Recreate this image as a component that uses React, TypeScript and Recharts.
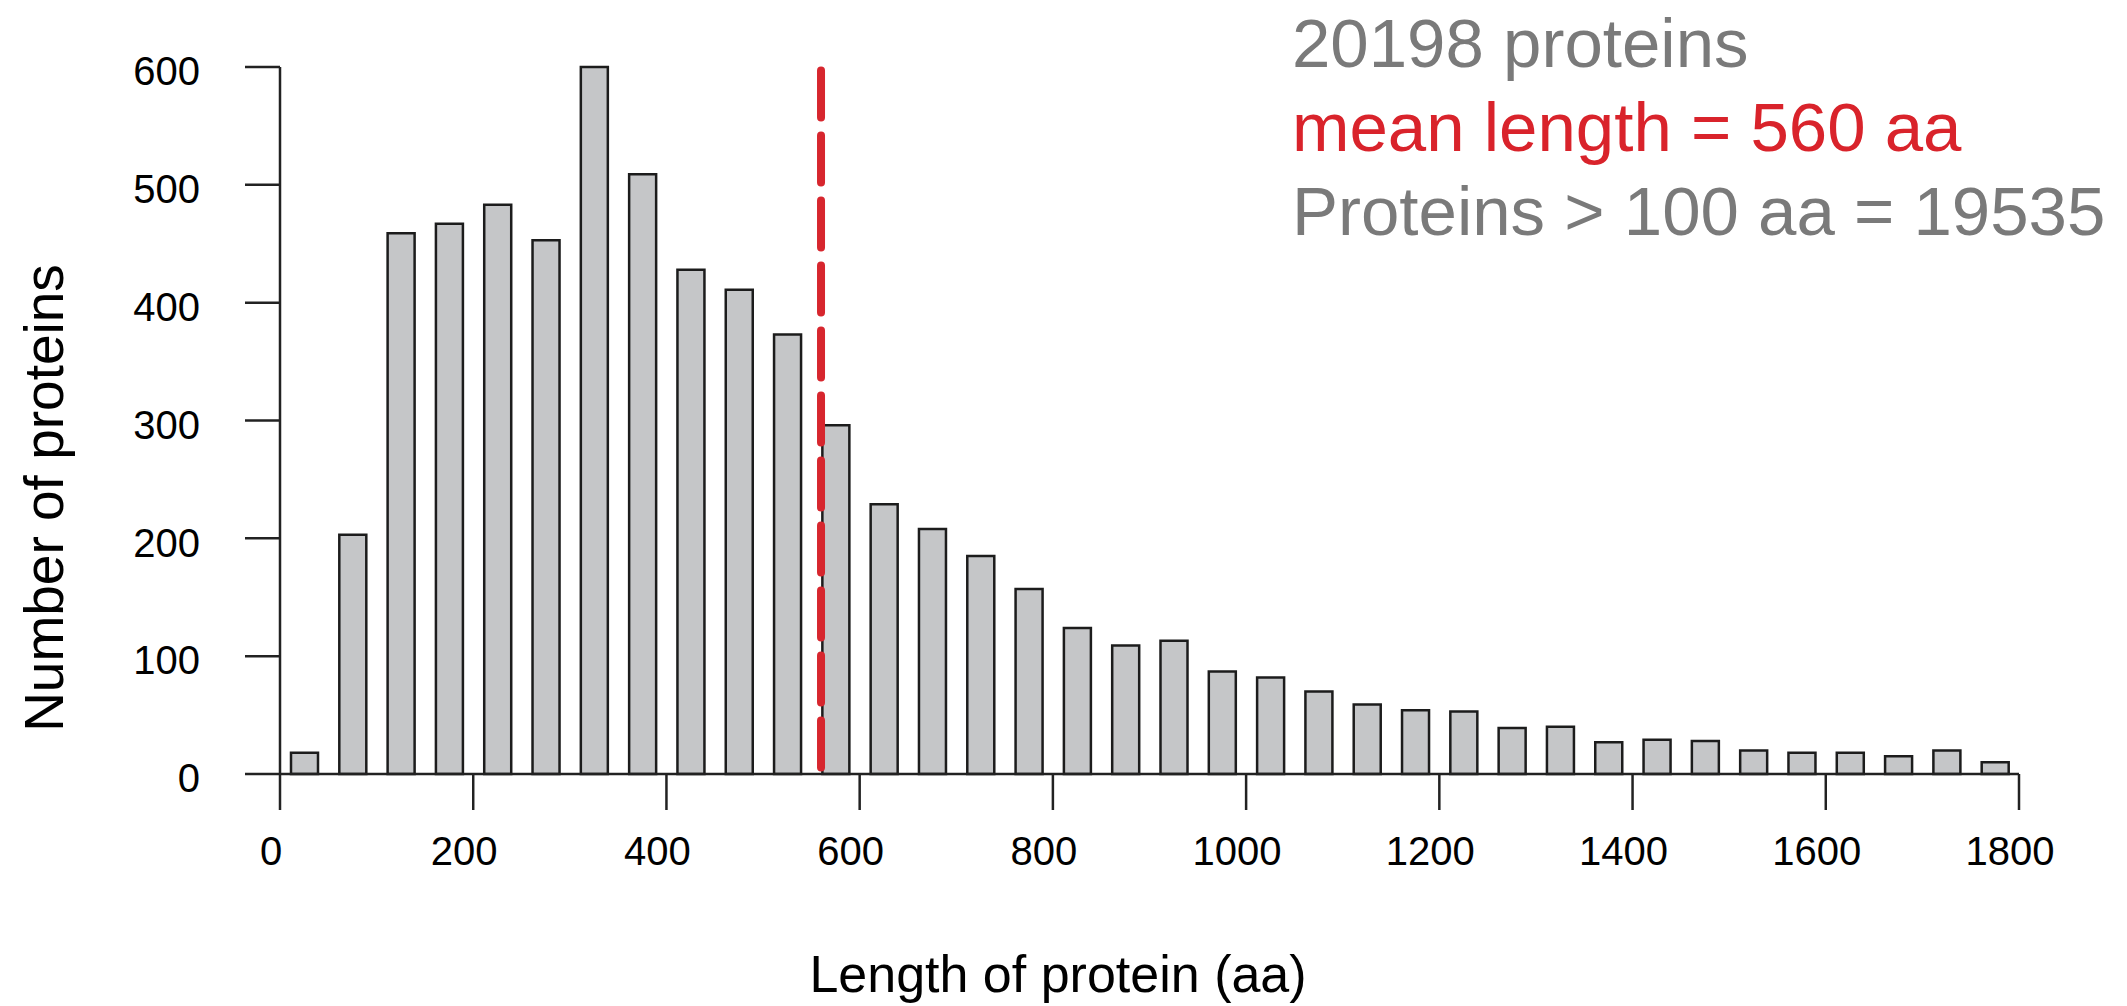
import { BarChart, Bar, XAxis, YAxis, ReferenceLine, Label } from "recharts"

const FONT = '"Liberation Sans", Arial, Helvetica, sans-serif'

// histogram bins, 50 aa wide, lower edge of each bin
const binStarts = [
  0, 50, 100, 150, 200, 250, 300, 350, 400, 450, 500, 550, 600, 650, 700, 750, 800, 850,
  900, 950, 1000, 1050, 1100, 1150, 1200, 1250, 1300, 1350, 1400, 1450, 1500, 1550, 1600,
  1650, 1700, 1750,
]
const counts = [
  18, 203, 459, 467, 483, 453, 600, 509, 428, 411, 373, 296, 229, 208, 185, 157, 124, 109,
  113, 87, 82, 70, 59, 54, 53, 39, 40, 27, 29, 28, 20, 18, 18, 15, 20, 10,
]
const BIN_WIDTH = 50
const meanLength = 560

const xTicks = [0, 200, 400, 600, 800, 1000, 1200, 1400, 1600, 1800]
const yTicks = [0, 100, 200, 300, 400, 500, 600]

const notes = [
  { text: "20198 proteins", color: "#7a7a7a" },
  { text: "mean length = 560 aa", color: "#d9232b" },
  { text: "Proteins > 100 aa = 19535", color: "#7a7a7a" },
]

const data = binStarts.map((start, i) => ({ mid: start + BIN_WIDTH / 2, count: counts[i] }))

const axisStroke = { stroke: "#222", strokeWidth: 2.5 }

export default function App() {
  return (
    <div
      style={{
        position: "absolute",
        left: 0,
        top: 0,
        width: 2127,
        height: 1006,
        background: "#fff",
        fontFamily: FONT,
      }}
    >
      <BarChart
        width={2127}
        height={1006}
        data={data}
        margin={{ top: 67, right: 108, bottom: 0, left: 0 }}
      >
        <XAxis
          dataKey="mid"
          type="number"
          domain={[0, 1800]}
          ticks={xTicks}
          height={232}
          tickSize={36}
          tickMargin={27}
          axisLine={axisStroke}
          tickLine={axisStroke}
          tick={{ fill: "#000", fontSize: 40, fontFamily: FONT, dx: -9 }}
          interval={0}
        >
          <Label
            content={() => (
              <text
                x={1058}
                y={992}
                textAnchor="middle"
                fontSize={52}
                fontFamily={FONT}
                fill="#000"
              >
                Length of protein (aa)
              </text>
            )}
          />
        </XAxis>
        <YAxis
          type="number"
          domain={[0, 600]}
          ticks={yTicks}
          width={280}
          tickSize={35}
          tickMargin={45}
          axisLine={axisStroke}
          tickLine={axisStroke}
          tick={{ fill: "#000", fontSize: 40, fontFamily: FONT, dy: 4 }}
          interval={0}
        >
          <Label
            content={() => (
              <text
                x={63}
                y={498}
                transform="rotate(-90 63 498)"
                textAnchor="middle"
                fontSize={55}
                fontFamily={FONT}
                fill="#000"
              >
                Number of proteins
              </text>
            )}
          />
        </YAxis>
        <Bar
          dataKey="count"
          fill="#c5c6c8"
          stroke="#1c1c1c"
          strokeWidth={2.5}
          barSize={27}
          isAnimationActive={false}
        />
        <ReferenceLine
          x={meanLength}
          stroke="#d7262e"
          strokeWidth={8}
          strokeDasharray="47 18"
          strokeDashoffset={58.5}
          strokeLinecap="round"
        />
      </BarChart>
      <div style={{ position: "absolute", left: 1292, top: 2, fontSize: 69, lineHeight: "84px" }}>
        {notes.map((n) => (
          <div key={n.text} style={{ color: n.color, whiteSpace: "nowrap" }}>
            {n.text}
          </div>
        ))}
      </div>
    </div>
  )
}
